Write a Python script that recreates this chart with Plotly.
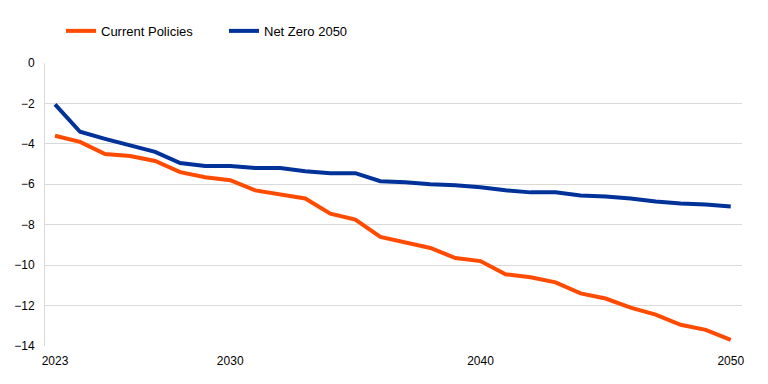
import plotly.graph_objects as go

years = list(range(2023, 2051))
current_policies = [-3.6, -3.9, -4.5, -4.6, -4.85, -5.4, -5.65, -5.8, -6.3, -6.5,
                    -6.7, -7.45, -7.75, -8.6, -8.85, -9.15, -9.65, -9.8, -10.45, -10.6,
                    -10.85, -11.4, -11.65, -12.1, -12.45, -12.95, -13.2, -13.7]
net_zero_2050 = [-2.05, -3.4, -3.75, -4.05, -4.4, -4.95, -5.1, -5.1, -5.2, -5.2,
                 -5.35, -5.45, -5.45, -5.85, -5.9, -6.0, -6.05, -6.15, -6.3, -6.4,
                 -6.4, -6.55, -6.6, -6.7, -6.85, -6.95, -7.0, -7.1]
x_ticks = [2023, 2030, 2040, 2050]
y_ticks = [0, -2, -4, -6, -8, -10, -12, -14]

fig = go.Figure()
fig.add_trace(go.Scatter(x=years, y=current_policies, mode="lines", name="Current Policies",
                         line=dict(color="#FF4B00", width=4)))
fig.add_trace(go.Scatter(x=years, y=net_zero_2050, mode="lines", name="Net Zero 2050",
                         line=dict(color="#003299", width=4)))

fig.update_layout(
    width=760, height=376,
    margin=dict(l=37, r=26, t=55, b=38, autoexpand=False),
    paper_bgcolor="white", plot_bgcolor="white",
    font=dict(family="Liberation Sans, Arial, sans-serif", size=12, color="#000000"),
    legend=dict(orientation="h", x=53 / 760, y=0.939, xanchor="left", yanchor="middle",
                yref="container", xref="container",
                font=dict(size=13), entrywidth=118, entrywidthmode="pixels",
                traceorder="normal"),
    showlegend=True,
)
fig.update_xaxes(range=[2022.6, 2050.45], tickvals=x_ticks, ticktext=[str(v) for v in x_ticks],
                 showgrid=False, zeroline=False, showline=False, ticks="", ticklabelstandoff=6)
fig.update_yaxes(range=[-14, 0], tickvals=y_ticks, showgrid=True, gridcolor="#D9D9D9",
                 gridwidth=1, zeroline=False, showline=True, linecolor="#D9D9D9", linewidth=1,
                 ticks="", ticklabelstandoff=7)

fig.write_html("out.html")
